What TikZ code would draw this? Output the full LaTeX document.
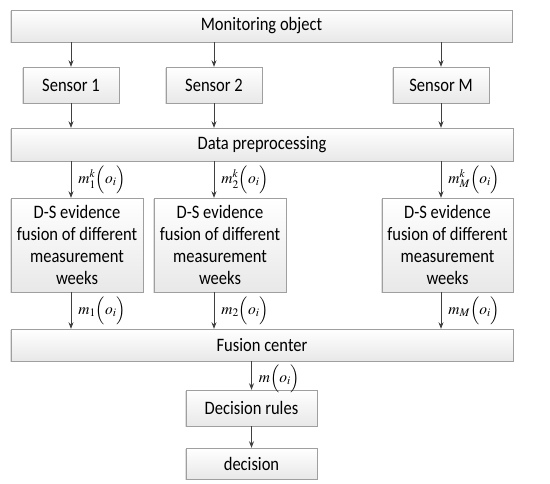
\documentclass[tikz,border=0pt]{standalone}
\usepackage{mathptmx}
\usepackage[no-math]{fontspec}
\setmainfont{Carlito}[FakeStretch=0.87]
\usetikzlibrary{arrows.meta,shadows}
\tikzset{
  box/.style={draw=gray!75, top color=white, bottom color=gray!18, inner sep=0pt,
    font=\fontsize{19}{21.7}\selectfont, align=center,
    drop shadow={shadow xshift=-0.8pt, shadow yshift=-0.8pt, opacity=0.25, fill=gray}},
  arr/.style={draw=black!75, line width=0.8pt, -{Stealth[length=6.5pt,width=5pt]}},
  lab/.style={right, inner sep=0pt, xshift=7pt, font=\fontsize{15.5}{18}\selectfont}
}
\begin{document}
\begin{tikzpicture}[x=1pt,y=-1pt]
\useasboundingbox (0,0) rectangle (550,484);
\node[box, minimum width=501pt, minimum height=32pt] (mon) at (261.5,26) {Monitoring object};
\node[box, minimum width=96pt, minimum height=36pt] (s1) at (71,85) {Sensor 1};
\node[box, minimum width=96pt, minimum height=36pt] (s2) at (214,85) {Sensor 2};
\node[box, minimum width=96pt, minimum height=36pt] (sM) at (441,85) {Sensor M};
\node[box, minimum width=502pt, minimum height=33pt] (pre) at (262,144.5) {Data preprocessing};
\node[box, minimum width=132pt, minimum height=94pt] (d1) at (77,245) {D-S evidence\\fusion of different\\measurement\\weeks};
\node[box, minimum width=132pt, minimum height=94pt] (d2) at (220,245) {D-S evidence\\fusion of different\\measurement\\weeks};
\node[box, minimum width=131pt, minimum height=94pt] (dM) at (447.5,245) {D-S evidence\\fusion of different\\measurement\\weeks};
\node[box, minimum width=502pt, minimum height=32pt] (fus) at (262,345) {Fusion center};
\node[box, minimum width=131pt, minimum height=36pt] (rul) at (251.5,408) {Decision rules};
\node[box, minimum width=131pt, minimum height=31pt] (dec) at (251.5,463.5) {decision};

\draw[arr] (mon.south -| s1) -- (s1.north);
\draw[arr] (mon.south -| s2) -- (s2.north);
\draw[arr] (mon.south -| sM) -- (sM.north);
\draw[arr] (s1.south) -- (pre.north -| s1);
\draw[arr] (s2.south) -- (pre.north -| s2);
\draw[arr] (sM.south) -- (pre.north -| sM);
\draw[arr] (pre.south -| s1) -- node[lab] {$m_1^k\Bigl(o_i\Bigr)$} (d1.north -| s1);
\draw[arr] (pre.south -| s2) -- node[lab] {$m_2^k\Bigl(o_i\Bigr)$} (d2.north -| s2);
\draw[arr] (pre.south -| sM) -- node[lab] {$m_M^k\Bigl(o_i\Bigr)$} (dM.north -| sM);
\draw[arr] (d1.south -| s1) -- node[lab] {$m_1\Bigl(o_i\Bigr)$} (fus.north -| s1);
\draw[arr] (d2.south -| s2) -- node[lab] {$m_2\Bigl(o_i\Bigr)$} (fus.north -| s2);
\draw[arr] (dM.south -| sM) -- node[lab] {$m_M\Bigl(o_i\Bigr)$} (fus.north -| sM);
\draw[arr] (fus.south -| rul) -- node[lab, yshift=-3pt] {$m\Bigl(o_i\Bigr)$} (rul.north);
\draw[arr] (rul.south) -- (dec.north);
\end{tikzpicture}
\end{document}
